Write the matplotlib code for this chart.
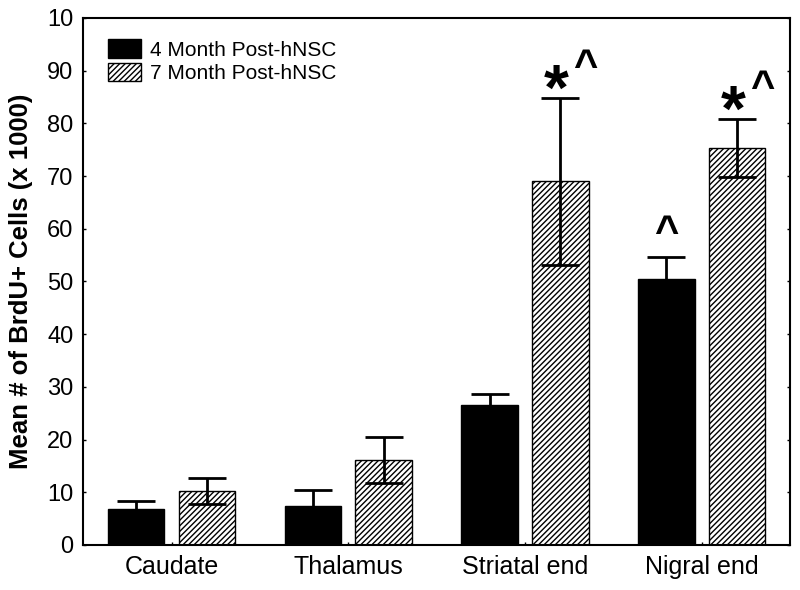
import matplotlib
matplotlib.use("Agg")
import matplotlib.pyplot as plt
import numpy as np

plt.rcParams['font.family'] = ['Liberation Sans', 'DejaVu Sans']
plt.rcParams['hatch.linewidth'] = 1.0
plt.rcParams['hatch.color'] = '#333333'

categories = ["Caudate", "Thalamus", "Striatal end", "Nigral end"]
series_names = ["4 Month Post-hNSC", "7 Month Post-hNSC"]
mean_4mo = [6.9, 7.4, 26.6, 50.5]
err_4mo = [1.4, 3.0, 2.1, 4.2]
mean_7mo = [10.3, 16.1, 69.0, 75.3]
err_7mo = [2.5, 4.4, 15.8, 5.5]
annot_4mo = ["", "", "", "^"]
annot_7mo_star = ["", "", "*", "*"]
annot_7mo_caret = ["", "", "^", "^"]
ytick_vals = [0, 10, 20, 30, 40, 50, 60, 70, 80, 90, 100]
ytick_labels = ["0", "10", "20", "30", "40", "50", "60", "70", "80", "90", "10"]

fig = plt.figure(figsize=(8, 5.9), dpi=100)
ax = fig.add_axes([0.104, 0.0763, 0.8835, 0.8932])

x = np.arange(len(categories))
w = 0.32
off = 0.2

ekw = dict(elinewidth=2, capthick=2, capsize=14, ecolor='black')
ax.bar(x - off, mean_4mo, w, color='black', edgecolor='black', linewidth=1,
       yerr=err_4mo, error_kw=ekw, label=series_names[0], zorder=2)
ax.bar(x + off, mean_7mo, w, color='white', edgecolor='black', linewidth=1,
       hatch='//////', yerr=err_7mo, error_kw=ekw, label=series_names[1], zorder=2)

for i in range(len(categories)):
    if annot_4mo[i]:
        ax.annotate(annot_4mo[i], (x[i] - off, mean_4mo[i] + err_4mo[i]),
                    xytext=(0, 2), textcoords='offset points', ha='center', va='bottom',
                    fontsize=30, fontweight='bold')
    if annot_7mo_star[i]:
        ax.annotate(annot_7mo_star[i], (x[i] + off, mean_7mo[i] + err_7mo[i]),
                    xytext=(-3, -18), textcoords='offset points', ha='center', va='bottom',
                    fontsize=46, fontweight='bold')
    if annot_7mo_caret[i]:
        ax.annotate(annot_7mo_caret[i], (x[i] + off, mean_7mo[i] + err_7mo[i]),
                    xytext=(18, 7), textcoords='offset points', ha='center', va='bottom',
                    fontsize=30, fontweight='bold')

ax.set_xlim(-0.5, 3.5)
ax.set_ylim(0, 100)
ax.set_xticks(x)
ax.set_xticklabels(categories, fontsize=18)
ax.set_yticks(ytick_vals)
ax.set_yticklabels(ytick_labels, fontsize=17)
ax.tick_params(axis='both', direction='in', length=2, width=1, right=True, top=False, pad=7)
ax.set_ylabel("Mean # of BrdU+ Cells (x 1000)", fontsize=18.5, fontweight='bold', labelpad=10)
for s in ax.spines.values():
    s.set_linewidth(1.5)

ax.legend(loc='upper left', bbox_to_anchor=(0.035, 0.96), frameon=False, fontsize=15,
          handlelength=1.6, handleheight=1.0, labelspacing=0.15, handletextpad=0.4,
          borderaxespad=0.0, borderpad=0.0)

fig.savefig("out.png", dpi=100)
